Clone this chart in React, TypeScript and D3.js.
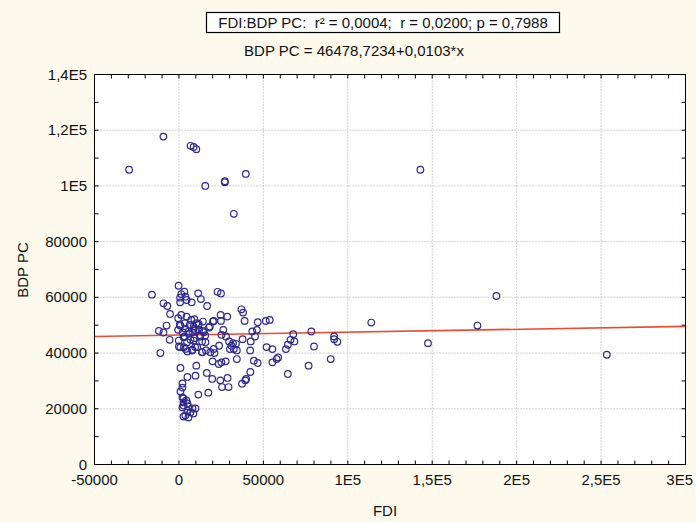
import React from "react";
import * as d3 from "d3";

const fdi: number[] = [
  -200, -16000, 1370, 3200, 690, 3890, 690, 4570, 7550, 11400, 13000, 16700, 22900, 24900,
  -9150, -6860, -5260, 1370, 4570, -460, 7320, 9150, 10300, 3430, 460, 6400, 8690, 11400,
  -7320, -11900, -9150, -5490, -10980, -460, 2290, 5720, 8000, 9600, 11900, 14200, 3430, 6860,
  9150, 12600, 15550, 0, 2970, 5030, 8000, 9600, 13700, 16000, 13700, 18300, 20100, 21040,
  23800, 25200, 26300, 27900, 29700, 32000, 31100, 33800, 32500, 30200, 34300, 19900, 23600,
  25200, 27700, 28800, 19700, 16500, 10300, 5030, 9830, 910, 34300, 37700, 38900, 38000, 37000,
  28600, 24700, 24900, 20600, 17800, 14200, 42200, 42500, 45050, 43450, 46200, 46650, 44370,
  46650, 42300, 39800, 51460, 53750, 51900, 55350, 58800, 57860, 55350, 63350, 64500, 68400,
  66100, 67700, 64500, 78400, 80000, 76800, 89900, 91900, 91900, 93800, 113900, 147500, 176800,
  188000, 253400,
  -29500, 143000, -9200, 6900, 8700, 10300, 15600, 27200, 27200, 39600, 32500,
  2100, 2100, 900, 17400, 11500, 2100, 2700, 4400, 2700, 5000, 2700, 5600, 2100, 8000, 9800,
  5000, 6800, 8600, 2700, 5600, 3800,
  37400, 39300, 24500, 25500, 29400,
  900, 3800, 5800, 2800, -100, 4800, 8700, 10800, 7800, 3800, 900, 12700, 14700, 8700, 11700,
  15700, 13700, 18600, 20600,
];

const bdpPc: number[] = [
  64170, 60950, 61190, 62020, 59880, 60240, 58210, 59050, 58210, 61430, 59400, 56900, 62000, 61400,
  57860, 56900, 54050, 53690, 53100, 52500, 51900, 52140, 50710, 50710, 50120, 50120, 49520, 50120,
  49880, 47980, 47380, 44760, 40000, 48330, 47380, 47740, 47380, 48100, 48330, 47980, 45950, 44760,
  45360, 45950, 46310, 42380, 42140, 40600, 41190, 42140, 44170, 40950, 40360, 49520, 51310, 40000,
  42620, 46550, 48330, 45950, 44170, 43570, 42620, 43330, 41430, 41430, 40950, 37020, 36070,
  36670, 37020, 31070, 30710, 32860, 35480, 31430, 31900, 34640, 37860, 45000, 51550, 54520, 55710,
  53100, 53690, 51550, 51550, 49170, 51310, 40950, 44170, 45950, 47740, 48330, 51070, 37260,
  36430, 33210, 30710, 51550, 51900, 42140, 41430, 38450, 37860, 36670, 41430, 42980, 44170,
  44760, 46790, 32500, 47740, 42380, 35480, 37860, 45950, 45000, 44050, 50950, 43570, 49880,
  60480, 39400,
  105800, 105800, 117700, 114400, 114000, 113200, 100000, 101300, 101700, 104300, 90000,
  29100, 27600, 26200, 25800, 25100, 24100, 23700, 23000, 22300, 21900, 21200, 20800, 20500, 20100, 20100,
  19400, 18700, 18300, 17200, 16900, 17600,
  29000, 30200, 30200, 27800, 27800,
  49900, 48700, 46900, 45700, 44500, 43900, 44500, 42100, 40900, 41500, 42100, 46300, 47500, 48700, 50500,
  43900, 40300, 40300, 41500,
];

const xTickValues = [-50000, 0, 50000, 100000, 150000, 200000, 250000, 300000];
const xTickLabels = ["-50000", "0", "50000", "1E5", "1,5E5", "2E5", "2,5E5", "3E5"];
const yTickValues = [0, 20000, 40000, 60000, 80000, 100000, 120000, 140000];
const yTickLabels = ["0", "20000", "40000", "60000", "80000", "1E5", "1,2E5", "1,4E5"];

const intercept = 46478.7234;
const slope = 0.0103;

const titleText = "FDI:BDP PC:  r² = 0,0004;  r = 0,0200; p = 0,7988";
const eqText = "BDP PC = 46478,7234+0,0103*x";

export default function App() {
  const W = 696, H = 522;
  const left = 94.5, right = 685.5, top = 74.5, bottom = 464.5;
  const x = d3.scaleLinear().domain([-50000, 300000]).range([left, right]);
  const y = d3.scaleLinear().domain([0, 140000]).range([bottom, top]);
  const font = "'Liberation Sans', Arial, sans-serif";
  const xMinor = d3.range(-50000, 300001, 10000);
  const yMinor = d3.range(0, 140001, 10000);
  const tl = 4;
  const fs = 15;
  const regLine = d3.line<number>().x((v) => x(v)).y((v) => y(intercept + slope * v));

  return (
    <svg width={W} height={H} style={{ position: "absolute", left: 0, top: 0 }} fontFamily={font}>
      <rect x={0} y={0} width={W} height={H} fill="#fdf9ec" />
      <rect x={left} y={top} width={right - left} height={bottom - top} fill="#ffffff" />
      {xTickValues.slice(1, -1).map((v) => (
        <line key={"gx" + v} x1={x(v)} x2={x(v)} y1={top} y2={bottom} stroke="#a8a8a8" strokeWidth={1} strokeDasharray="1,2" />
      ))}
      {yTickValues.slice(1, -1).map((v) => (
        <line key={"gy" + v} x1={left} x2={right} y1={y(v)} y2={y(v)} stroke="#a8a8a8" strokeWidth={1} strokeDasharray="1,2" />
      ))}
      {xMinor.map((v) => (
        <g key={"tx" + v}>
          <line x1={x(v)} x2={x(v)} y1={bottom} y2={bottom - tl} stroke="#000" />
          <line x1={x(v)} x2={x(v)} y1={top} y2={top + tl} stroke="#000" />
        </g>
      ))}
      {yMinor.map((v) => (
        <g key={"ty" + v}>
          <line x1={left} x2={left + tl} y1={y(v)} y2={y(v)} stroke="#000" />
          <line x1={right} x2={right - tl} y1={y(v)} y2={y(v)} stroke="#000" />
        </g>
      ))}
      <path d={regLine([-50000, 300000]) || ""} stroke="#ee4a33" strokeWidth={1.6} fill="none" />
      {fdi.map((v, i) => (
        <circle key={"p" + i} cx={x(v)} cy={y(bdpPc[i])} r={3.3} fill="none" stroke="#2e2a8e" strokeWidth={1.2} />
      ))}
      <rect x={left} y={top} width={right - left} height={bottom - top} fill="none" stroke="#000" strokeWidth={1} />
      {xTickValues.map((v, i) => {
        const last = i === xTickValues.length - 1;
        return (
          <text key={"lx" + v} x={last ? 693 : x(v)} y={485} textAnchor={last ? "end" : "middle"} fontSize={fs} fill="#111">{xTickLabels[i]}</text>
        );
      })}
      {yTickValues.map((v, i) => (
        <text key={"ly" + v} x={87} y={y(v) + 5} textAnchor="end" fontSize={fs} fill="#111">{yTickLabels[i]}</text>
      ))}
      <text x={385} y={516} textAnchor="middle" fontSize={fs} fill="#111">FDI</text>
      <text transform="translate(28,270) rotate(-90)" textAnchor="middle" fontSize={fs} fill="#111">BDP PC</text>
      <rect x={206.5} y={12.5} width={353} height={20} fill="#ffffff" stroke="#000" strokeWidth={1.2} />
      <text x={383} y={28} textAnchor="middle" fontSize={fs} fill="#111" style={{ whiteSpace: "pre" }}>{titleText}</text>
      <text x={354} y={56} textAnchor="middle" fontSize={fs} fill="#111">{eqText}</text>
    </svg>
  );
}
